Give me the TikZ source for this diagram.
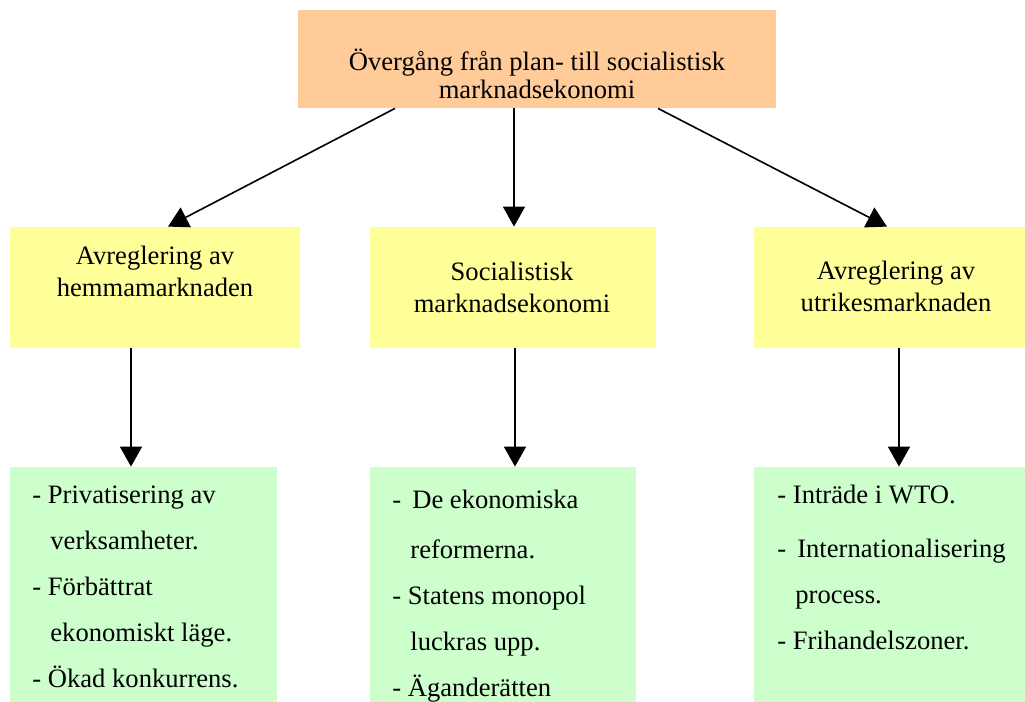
\documentclass[tikz,border=0pt]{standalone}
\usepackage{fontspec}
\setmainfont{Liberation Serif}
\usetikzlibrary{arrows.meta,calc,positioning}
\definecolor{topcol}{HTML}{FFCC99}
\definecolor{midcol}{HTML}{FFFF99}
\definecolor{lowcol}{HTML}{CCFFCC}

\begin{document}
\begin{tikzpicture}[x=0.5pt,y=-0.5pt,
    topbox/.style={fill=topcol,minimum width=239pt,minimum height=49pt,inner sep=0pt},
    midbox/.style={fill=midcol,minimum height=60.5pt,inner sep=0pt},
    lowbox/.style={fill=lowcol,minimum height=126.5pt,inner sep=0pt},
    head/.style={align=center,font=\fontsize{13.3}{16}\selectfont,inner sep=0pt},
    items/.style={align=left,font=\fontsize{13.3}{23}\selectfont,inner sep=0pt,anchor=north west},
    arr/.style={-{Triangle[width=11pt,length=10pt]},line width=0.8pt}]
  \clip (0,0) rectangle (1025,702);

  % boxes
  \node[topbox] (plan) at (537,59) {};
  \node[midbox,minimum width=145pt] (hemma) at (155,287.5) {};
  \node[midbox,minimum width=143pt] (social) at (513,287.5) {};
  \node[midbox,minimum width=145pt] (utrikes) at (899,287.5) {};
  \node[lowbox,minimum width=133.5pt] (hemmalist) at (143.5,593.5) {};
  \node[lowbox,minimum width=133pt] (sociallist) at (503,593.5) {};
  \node[lowbox,minimum width=145pt] (utrikeslist) at (899,593.5) {};

  % arrows
  \draw[arr] ($(plan.south)+(-142,0)$) -- ($(hemma.north)+(13,0)$);
  \draw[arr] ($(plan.south)+(-23,0)$) -- ($(social.north)+(1,0)$);
  \draw[arr] ($(plan.south)+(121,0)$) -- ($(utrikes.north)+(-12,0)$);
  \draw[arr] ($(hemma.south)+(-24,0)$) -- ($(hemmalist.north)+(-12.5,0)$);
  \draw[arr] ($(social.south)+(2,0)$) -- ($(sociallist.north)+(12,0)$);
  \draw[arr] (utrikes.south) -- (utrikeslist.north);

  % texts
  \node[head,font=\fontsize{13.3}{14}\selectfont] (plantext) at (537,74)
    {Övergång från plan- till socialistisk\\marknadsekonomi};
  \node[head] (hemmatext) at (155,271) {Avreglering av\\hemmamarknaden};
  \node[head] (socialtext) at (512,287) {Socialistisk\\marknadsekonomi};
  \node[head] (utrikestext) at (896,286) {Avreglering av\\utrikesmarknaden};

  \node[items] (hemmapunkter) at (32,485)
    {- Privatisering av\\\hspace*{9pt}verksamheter.\\- Förbättrat\\\hspace*{9pt}ekonomiskt läge.\\- Ökad konkurrens.};
  \node[items] (socialpunkter) at (392,490)
    {-\, De ekonomiska\\[2pt]\hspace*{9pt}reformerna.\\- Statens monopol\\\hspace*{9pt}luckras upp.\\- Äganderätten};
  \node[items] (utrikespunkter) at (777,485)
    {- Inträde i WTO.\\[4pt]-\, Internationalisering\\\hspace*{9pt}process.\\- Frihandelszoner.};
\end{tikzpicture}
\end{document}
